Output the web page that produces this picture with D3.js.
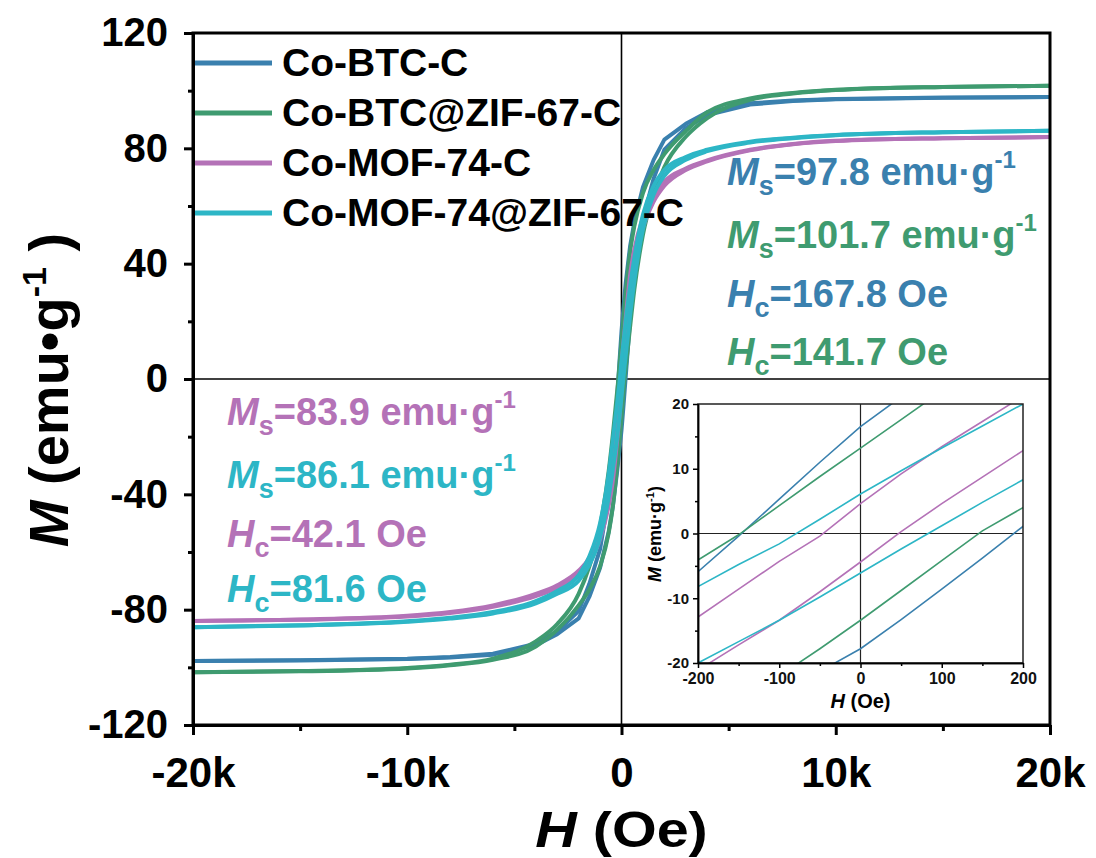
<!DOCTYPE html>
<html>
<head>
<meta charset="utf-8">
<script src="https://cdn.jsdelivr.net/npm/d3@7"></script>
<style>
  body { margin: 0; background: #fff; }
  text { font-family: "Liberation Sans", Arial, sans-serif; font-weight: bold; }
</style>
</head>
<body>
<svg id="chart" width="1096" height="858"></svg>
<script>
// Applied field H (Oe), shared by every branch below
const fieldOe = [-20000,-15000,-10000,-8000,-6000,-4000,-3000,-2000,-1500,-1000,-600,-400,-200,-150,-100,-50,0,50,100,150,200,400,600,1000,1500,2000,3000,4000,6000,8000,10000,15000,20000];

const seriesNames = ["Co-BTC-C", "Co-BTC@ZIF-67-C", "Co-MOF-74-C", "Co-MOF-74@ZIF-67-C"];
const seriesColors = ["#3a80ae", "#3f9b70", "#b472b7", "#2db6c6"];

// Magnetization M (emu/g); "desc" = field swept down from +20 kOe, "asc" = field swept up from -20 kOe
const btcDesc = [-97.8,-97.5,-97.0,-96.4,-95.3,-91.8,-87.5,-80.5,-71,-59,-41,-26.5,-5.9,-0.4,5.3,11.0,16.5,21.1,25.4,29.6,33.6,46,54.5,66.5,76,83,88.5,92.5,95.6,96.6,97.1,97.6,97.8];
const btcAsc  = [-97.8,-97.6,-97.1,-96.6,-95.6,-92.3,-88.5,-83,-75.5,-65.5,-53,-44,-31.8,-28.3,-24.8,-21.3,-17.8,-13.3,-8.6,-3.8,1.1,20.5,35.5,55.5,69.5,79.5,87,91.5,95.2,96.4,97.0,97.5,97.8];

const btcZifDesc = [-101.7,-101.3,-100.2,-99.1,-97,-91,-85,-74.5,-65,-51,-32,-19,-4.1,-0.2,4.3,8.8,13.2,17.6,22.0,26.2,30.2,44,53,64.5,72.5,78,86,92.5,97.3,99.2,100.3,101.3,101.7];
const btcZifAsc  = [-101.7,-101.4,-100.4,-99.3,-97.4,-92.8,-87,-78.5,-73,-65,-53.5,-44,-30,-26,-22,-17.8,-13.4,-8.8,-4.2,0.4,4.0,18,31,50,64,73.5,84,90.5,96.8,99,100.2,101.3,101.7];

const mofDesc = [-83.9,-83.4,-82.1,-80.8,-78.5,-74.5,-71.5,-66.5,-62,-53,-40,-29,-12.9,-8.6,-4.3,-0.4,4.6,9.2,13.4,17.3,21.2,36,45,56,63.5,68.5,73,75.8,79.5,81.5,82.6,83.5,83.9];
const mofAsc  = [-83.9,-83.5,-82.4,-81.2,-79,-75.3,-72.5,-68,-63.5,-55.5,-44,-35,-21.1,-17.2,-13.4,-9.0,-4.4,0.3,4.6,8.7,12.8,28,39,52.5,61.5,67,72.5,75.5,79.3,81.4,82.5,83.5,83.9];

const mofZifDesc = [-86.1,-85.4,-84,-82.8,-80.8,-77,-73.5,-68,-61.5,-50,-33,-21,-8.2,-4.8,-1.6,2.2,6.1,9.7,13.2,16.6,20.0,32,42,57,67,72.5,77,79.5,82.3,83.7,84.6,85.6,86.1];
const mofZifAsc  = [-86.1,-85.5,-84.2,-83.1,-81.3,-77.8,-74.5,-70,-64.5,-55,-41,-31,-20,-16.7,-13.4,-9.8,-6.1,-2.4,1.2,4.8,8.3,22,34,52,64,70.5,76,79,82,83.5,84.5,85.6,86.1];

// Axis ticks
const mainXTicks = [-20000,-10000,0,10000,20000];
const mainXMinor = [-15000,-5000,5000,15000];
const mainYTicks = [-120,-80,-40,0,40,80,120];
const mainYMinor = [-100,-60,-20,20,60,100];
const insetXTicks = [-200,-100,0,100,200];
const insetXMinor = [-150,-50,50,150];
const insetYTicks = [-20,-10,0,10,20];
const insetYMinor = [-15,-5,5,15];

// Annotated saturation magnetization / coercivity values
const msValues = ["97.8", "101.7", "83.9", "86.1"];
const hcValues = ["167.8", "141.7", "42.1", "81.6"];

const series = [
  { name: seriesNames[0], color: seriesColors[0], desc: btcDesc, asc: btcAsc, curve: d3.curveLinear },
  { name: seriesNames[1], color: seriesColors[1], desc: btcZifDesc, asc: btcZifAsc, curve: d3.curveMonotoneX },
  { name: seriesNames[2], color: seriesColors[2], desc: mofDesc, asc: mofAsc, curve: d3.curveMonotoneX },
  { name: seriesNames[3], color: seriesColors[3], desc: mofZifDesc, asc: mofZifAsc, curve: d3.curveMonotoneX }
];

const svg = d3.select("#chart");
const plainFmt = d => String(d);

// ---------- main panel ----------
const M = { left: 193, right: 1050, top: 33, bottom: 725 };
const x = d3.scaleLinear([-20000, 20000], [M.left, M.right]);
const y = d3.scaleLinear([-120, 120], [M.bottom, M.top]);

svg.append("clipPath").attr("id", "mainClip").append("rect")
  .attr("x", M.left).attr("y", M.top).attr("width", M.right - M.left).attr("height", M.bottom - M.top);

// zero lines
svg.append("line").attr("x1", M.left).attr("x2", M.right).attr("y1", y(0)).attr("y2", y(0))
  .attr("stroke", "#000").attr("stroke-width", 1.6);
svg.append("line").attr("x1", x(0)).attr("x2", x(0)).attr("y1", M.top).attr("y2", M.bottom)
  .attr("stroke", "#000").attr("stroke-width", 1.6);

const curvesG = svg.append("g").attr("clip-path", "url(#mainClip)");
series.forEach(s => {
  const line = d3.line().x((d, i) => x(fieldOe[i])).y(d => y(d)).curve(s.curve);
  [s.desc, s.asc].forEach(branch => {
    curvesG.append("path").attr("d", line(branch)).attr("fill", "none")
      .attr("stroke", s.color).attr("stroke-width", 4).attr("stroke-linejoin", "round");
  });
});

// frame
svg.append("rect").attr("x", M.left).attr("y", M.top).attr("width", M.right - M.left).attr("height", M.bottom - M.top)
  .attr("fill", "none").attr("stroke", "#000").attr("stroke-width", 3);

function styleAxis(g, w) {
  g.select(".domain").attr("stroke-width", w);
  g.selectAll(".tick line").attr("stroke-width", w);
}

const kFmt = d => d === 0 ? "0" : (d / 1000) + "k";
const gx = svg.append("g").attr("transform", `translate(0,${M.bottom})`)
  .call(d3.axisBottom(x).tickValues(mainXTicks).tickFormat(kFmt).tickSize(10).tickSizeOuter(0).tickPadding(22));
const gxm = svg.append("g").attr("transform", `translate(0,${M.bottom})`)
  .call(d3.axisBottom(x).tickValues(mainXMinor).tickFormat("").tickSize(6).tickSizeOuter(0));
const gy = svg.append("g").attr("transform", `translate(${M.left},0)`)
  .call(d3.axisLeft(y).tickValues(mainYTicks).tickFormat(plainFmt).tickSize(9).tickSizeOuter(0).tickPadding(16));
const gym = svg.append("g").attr("transform", `translate(${M.left},0)`)
  .call(d3.axisLeft(y).tickValues(mainYMinor).tickFormat("").tickSize(5).tickSizeOuter(0));
[gx, gxm, gy, gym].forEach(g => styleAxis(g, 3));
gx.selectAll("text").attr("font-size", 42).attr("fill", "#000").attr("font-family", null);
gy.selectAll("text").attr("font-size", 40).attr("fill", "#000").attr("font-family", null);

// axis titles
const xt = svg.append("text").attr("transform", `translate(${x(0)},847) scale(1.15,1)`)
  .attr("text-anchor", "middle").attr("font-size", 50);
xt.append("tspan").attr("font-style", "italic").text("H");
xt.append("tspan").text(" (Oe)");

const yt = svg.append("text").attr("transform", "translate(68,390) rotate(-90)").attr("text-anchor", "middle").attr("font-size", 56);
yt.append("tspan").attr("font-style", "italic").text("M");
yt.append("tspan").text(" (emu•g");
yt.append("tspan").attr("font-size", 34).attr("dy", -22).text("-1");
yt.append("tspan").attr("dy", 22).text(" )");

// legend
series.forEach((s, i) => {
  const ly = 63 + i * 50;
  svg.append("line").attr("x1", 195).attr("x2", 272).attr("y1", ly).attr("y2", ly)
    .attr("stroke", s.color).attr("stroke-width", 5);
  svg.append("text").attr("x", 282).attr("y", ly + 13).attr("font-size", 39).attr("fill", "#000").text(s.name);
});

// annotations
function annot(px, py, color, sym, sub, value, unitSup) {
  const t = svg.append("text").attr("x", px).attr("y", py).attr("font-size", 38).attr("fill", color);
  t.append("tspan").attr("font-style", "italic").text(sym);
  t.append("tspan").attr("font-size", 27).attr("dy", 10).text(sub);
  t.append("tspan").attr("dy", -10).text("=" + value);
  if (unitSup) t.append("tspan").attr("font-size", 24).attr("dy", -17).text(unitSup);
}
annot(727, 185, seriesColors[0], "M", "s", msValues[0] + " emu·g", "-1");
annot(727, 248, seriesColors[1], "M", "s", msValues[1] + " emu·g", "-1");
annot(727, 307, seriesColors[0], "H", "c", hcValues[0] + " Oe", null);
annot(727, 365, seriesColors[1], "H", "c", hcValues[1] + " Oe", null);
annot(227, 425, seriesColors[2], "M", "s", msValues[2] + " emu·g", "-1");
annot(227, 488, seriesColors[3], "M", "s", msValues[3] + " emu·g", "-1");
annot(227, 547, seriesColors[2], "H", "c", hcValues[2] + " Oe", null);
annot(227, 602, seriesColors[3], "H", "c", hcValues[3] + " Oe", null);

// ---------- inset: low-field region ----------
const I = { left: 698, right: 1023, top: 404, bottom: 663 };
const xi = d3.scaleLinear([-200, 200], [I.left, I.right]);
const yi = d3.scaleLinear([-20, 20], [I.bottom, I.top]);

svg.append("clipPath").attr("id", "insetClip").append("rect")
  .attr("x", I.left).attr("y", I.top).attr("width", I.right - I.left).attr("height", I.bottom - I.top);

svg.append("line").attr("x1", I.left).attr("x2", I.right).attr("y1", yi(0)).attr("y2", yi(0))
  .attr("stroke", "#222").attr("stroke-width", 1.2);
svg.append("line").attr("x1", xi(0)).attr("x2", xi(0)).attr("y1", I.top).attr("y2", I.bottom)
  .attr("stroke", "#222").attr("stroke-width", 1.2);

const insetG = svg.append("g").attr("clip-path", "url(#insetClip)");
series.forEach(s => {
  const line = d3.line().x((d, i) => xi(fieldOe[i])).y(d => yi(d)).curve(d3.curveLinear);
  [s.desc, s.asc].forEach(branch => {
    insetG.append("path").attr("d", line(branch)).attr("fill", "none")
      .attr("stroke", s.color).attr("stroke-width", 1.6);
  });
});

svg.append("rect").attr("x", I.left).attr("y", I.top).attr("width", I.right - I.left).attr("height", I.bottom - I.top)
  .attr("fill", "none").attr("stroke", "#222").attr("stroke-width", 1.5);

const gxi = svg.append("g").attr("transform", `translate(0,${I.bottom})`)
  .call(d3.axisBottom(xi).tickValues(insetXTicks).tickFormat(plainFmt).tickSize(5).tickSizeOuter(0).tickPadding(5));
const gxim = svg.append("g").attr("transform", `translate(0,${I.bottom})`)
  .call(d3.axisBottom(xi).tickValues(insetXMinor).tickFormat("").tickSize(3).tickSizeOuter(0));
const gyi = svg.append("g").attr("transform", `translate(${I.left},0)`)
  .call(d3.axisLeft(yi).tickValues(insetYTicks).tickFormat(plainFmt).tickSize(5).tickSizeOuter(0).tickPadding(4));
const gyim = svg.append("g").attr("transform", `translate(${I.left},0)`)
  .call(d3.axisLeft(yi).tickValues(insetYMinor).tickFormat("").tickSize(3).tickSizeOuter(0));
[gxi, gxim, gyi, gyim].forEach(g => styleAxis(g, 1.5));
gxi.selectAll("text").attr("font-size", 16).attr("fill", "#111").attr("font-family", null);
gyi.selectAll("text").attr("font-size", 15).attr("fill", "#111").attr("font-family", null);

const xti = svg.append("text").attr("x", xi(0)).attr("y", 708).attr("text-anchor", "middle").attr("font-size", 20);
xti.append("tspan").attr("font-style", "italic").text("H");
xti.append("tspan").text(" (Oe)");

const yti = svg.append("text").attr("transform", "translate(661,534) rotate(-90)").attr("text-anchor", "middle").attr("font-size", 18);
yti.append("tspan").attr("font-style", "italic").text("M");
yti.append("tspan").text(" (emu·g");
yti.append("tspan").attr("font-size", 11).attr("dy", -7).text("-1");
yti.append("tspan").attr("dy", 7).text(")");
</script>
</body>
</html>
